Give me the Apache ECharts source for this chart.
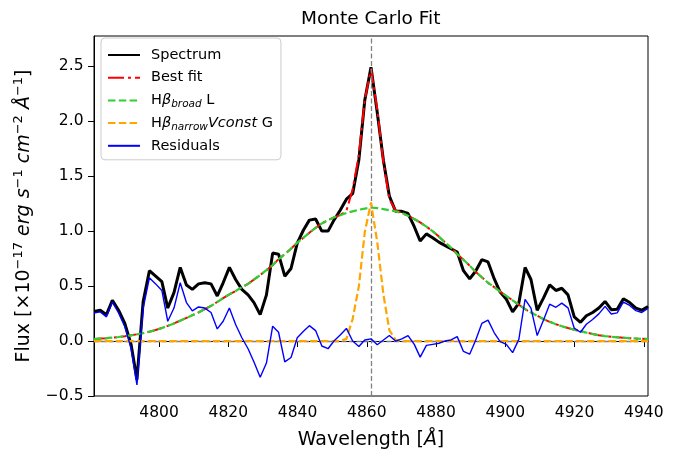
<!DOCTYPE html>
<html><head><meta charset="utf-8">
<script src="https://cdn.jsdelivr.net/npm/echarts@6/dist/echarts.min.js"></script>
<style>html,body{margin:0;padding:0;background:#fff}#c{width:676px;height:452px}</style>
</head><body><div id="c"></div><script>
const wavelength = [4781.2,4783.0,4784.8,4786.5,4788.3,4790.1,4791.9,4793.6,4795.4,4797.2,
4799.0,4800.8,4802.5,4804.3,4806.1,4807.9,4809.6,4811.4,4813.2,4815.0,
4816.8,4818.5,4820.3,4822.1,4823.9,4825.7,4827.4,4829.2,4831.0,4832.8,
4834.5,4836.3,4838.1,4839.9,4841.7,4843.4,4845.2,4847.0,4848.8,4850.5,
4852.3,4854.1,4855.9,4857.7,4859.4,4861.2,4863.0,4864.8,4866.5,4868.3,
4870.1,4871.9,4873.7,4875.4,4877.2,4879.0,4880.8,4882.5,4884.3,4886.1,
4887.9,4889.7,4891.4,4893.2,4895.0,4896.8,4898.5,4900.3,4902.1,4903.9,
4905.7,4907.4,4909.2,4911.0,4912.8,4914.6,4916.3,4918.1,4919.9,4921.7,
4923.4,4925.2,4927.0,4928.8,4930.6,4932.3,4934.1,4935.9,4937.7,4939.4,4941.2];
const spectrum = [0.27,0.28,0.24,0.37,0.28,0.16,-0.03,-0.35,0.36,0.64,
0.59,0.54,0.30,0.44,0.67,0.51,0.47,0.52,0.53,0.52,
0.41,0.53,0.67,0.56,0.47,0.42,0.35,0.24,0.42,0.80,
0.79,0.59,0.66,0.89,1.01,1.10,1.11,1.00,1.00,1.10,
1.19,1.29,1.34,1.65,2.19,2.49,2.08,1.64,1.32,1.18,
1.18,1.16,1.04,0.91,0.975,0.94,0.90,0.87,0.84,0.81,
0.64,0.565,0.635,0.74,0.72,0.565,0.445,0.38,0.265,0.345,
0.67,0.56,0.28,0.39,0.51,0.46,0.48,0.42,0.22,0.17,
0.23,0.26,0.30,0.36,0.285,0.29,0.385,0.35,0.30,0.28,0.315];
const broadComp = [0.018,0.022,0.026,0.031,0.037,0.044,0.052,0.061,0.072,0.085,
0.100,0.118,0.138,0.160,0.185,0.210,0.235,0.260,0.290,0.320,
0.355,0.390,0.425,0.455,0.490,0.520,0.560,0.600,0.645,0.690,
0.745,0.790,0.840,0.895,0.940,0.985,1.030,1.070,1.100,1.125,
1.145,1.165,1.180,1.195,1.205,1.215,1.210,1.200,1.190,1.180,
1.165,1.140,1.110,1.080,1.040,1.000,0.950,0.900,0.850,0.790,
0.740,0.685,0.630,0.580,0.530,0.490,0.450,0.410,0.370,0.330,
0.290,0.260,0.230,0.200,0.175,0.153,0.135,0.118,0.103,0.090,
0.077,0.064,0.053,0.045,0.039,0.034,0.030,0.026,0.023,0.020,0.018];
const narrowComp = [0,0,0,0,0,0,0,0,0,0,
0,0,0,0,0,0,0,0,0,0,
0,0,0,0,0,0,0,0,0,0,
0,0,0,0,0,0,0,0,0,0,
0,0.02,0.20,0.50,0.99,1.26,0.90,0.42,0.10,0.01,
0,0,0,0,0,0,0,0,0,0,
0,0,0,0,0,0,0,0,0,0,
0,0,0,0,0,0,0,0,0,0,
0,0,0,0,0,0,0,0,0,0,0];
const bestFit = [0.018,0.022,0.026,0.031,0.037,0.044,0.052,0.061,0.072,0.085,
0.100,0.118,0.138,0.160,0.185,0.210,0.235,0.260,0.290,0.320,
0.355,0.390,0.425,0.455,0.490,0.520,0.560,0.600,0.645,0.690,
0.745,0.790,0.840,0.895,0.940,0.985,1.030,1.070,1.100,1.125,
1.145,1.185,1.380,1.695,2.195,2.475,2.110,1.620,1.290,1.190,
1.165,1.140,1.110,1.080,1.040,1.000,0.950,0.900,0.850,0.790,
0.740,0.685,0.630,0.580,0.530,0.490,0.450,0.410,0.370,0.330,
0.290,0.260,0.230,0.200,0.175,0.153,0.135,0.118,0.103,0.090,
0.077,0.064,0.053,0.045,0.039,0.034,0.030,0.026,0.023,0.020,0.018];
const residuals = [0.255,0.265,0.22,0.355,0.255,0.13,-0.065,-0.40,0.30,0.575,
0.52,0.46,0.18,0.30,0.53,0.35,0.275,0.31,0.30,0.26,
0.11,0.18,0.30,0.15,0.03,-0.07,-0.19,-0.33,-0.20,0.135,
0.08,-0.19,-0.15,0.03,0.09,0.14,0.095,-0.045,-0.07,0.0,
0.055,0.115,0.0,-0.05,0.01,0.02,-0.034,0.01,0.05,0.0,
0.02,0.05,-0.03,-0.146,-0.04,-0.03,-0.02,0.0,0.01,0.04,
-0.095,-0.12,0.005,0.16,0.19,0.075,-0.005,-0.03,-0.105,0.015,
0.38,0.30,0.05,0.19,0.335,0.307,0.345,0.302,0.117,0.08,
0.153,0.196,0.247,0.315,0.246,0.256,0.355,0.324,0.277,0.26,0.297];
const xTicks = [4800,4820,4840,4860,4880,4900,4920,4940];
const yTicks = [-0.5,0.0,0.5,1.0,1.5,2.0,2.5];
const HBETA = 4861.3;
const X_RANGE = [4781.2, 4941.2];
const Y_RANGE = [-0.5, 2.775];

const FONT = 'DejaVu Sans';
const pairs = ys => wavelength.map((w, i) => [w, ys[i]]);
const names = ['Spectrum', 'Best fit', 'Hβ broad L', 'Hβ narrow Vconst G', 'Residuals'];
const legendText = {
  'Spectrum': 'Spectrum',
  'Best fit': 'Best fit',
  'Hβ broad L': 'H{it|β}{sub|broad} L',
  'Hβ narrow Vconst G': 'H{it|β}{sub|narrow}{it|Vconst} G',
  'Residuals': 'Residuals'
};
const chart = echarts.init(document.getElementById('c'), null, {renderer: 'canvas'});
const fmt = v => (v < 0 ? '\u2212' : '') + Math.abs(v).toFixed(1);
const option = {
  animation: false,
  backgroundColor: '#fff',
  title: {
    text: 'Monte Carlo Fit', left: 296, top: 5,
    textStyle: {fontFamily: FONT, fontSize: 18.5, fontWeight: 'normal', color: '#000'}
  },
  grid: {left: 94, right: 28, top: 36, bottom: 56, show: true, borderColor: '#000', borderWidth: 1,
    containLabel: false, outerBoundsMode: 'none'},
  legend: {
    data: names, orient: 'vertical', left: 101, top: 38,
    itemWidth: 32, itemHeight: 14, itemGap: 0.7,
    padding: [6, 8, 3, 6],
    borderColor: '#cccccc', borderWidth: 1, borderRadius: 4,
    backgroundColor: 'rgba(255,255,255,0.8)',
    itemStyle: {opacity: 0},
    formatter: n => legendText[n],
    textStyle: {
      fontFamily: FONT, fontSize: 14.5, color: '#000', lineHeight: 22, padding: [0, 0, 0, 6],
      rich: {
        it: {fontFamily: FONT, fontSize: 14.5, fontStyle: 'italic', color: '#000', lineHeight: 22},
        sub: {fontFamily: FONT, fontSize: 10.5, fontStyle: 'italic', color: '#000', lineHeight: 22, padding: [8, 0, 0, 0]}
      }
    }
  },
  xAxis: {
    type: 'value', min: X_RANGE[0], max: X_RANGE[1],
    minInterval: xTicks[1] - xTicks[0], maxInterval: xTicks[1] - xTicks[0], splitNumber: xTicks.length,
    axisLine: {lineStyle: {color: '#000', width: 1}},
    axisTick: {length: 6, lineStyle: {color: '#000'}},
    axisLabel: {color: '#000', fontFamily: FONT, fontSize: 15.5, margin: 9, showMinLabel: false, showMaxLabel: false,
      formatter: v => xTicks.includes(Math.round(v * 10) / 10) ? String(Math.round(v)) : ''},
    splitLine: {show: false},
    name: 'Wavelength [{it|Å}]', nameLocation: 'middle', nameGap: 35,
    nameTextStyle: {fontFamily: FONT, fontSize: 19, color: '#000',
      rich: {it: {fontFamily: FONT, fontSize: 19, fontStyle: 'italic', color: '#000'}}}
  },
  yAxis: {
    type: 'value', min: Y_RANGE[0], max: Y_RANGE[1], interval: yTicks[1] - yTicks[0],
    axisLine: {lineStyle: {color: '#000', width: 1}},
    axisTick: {length: 6, lineStyle: {color: '#000'}},
    axisLabel: {color: '#000', fontFamily: FONT, fontSize: 15.5, margin: 10.5, showMaxLabel: false,
      formatter: v => yTicks.some(t => Math.abs(t - v) < 1e-6) ? fmt(v) : ''},
    splitLine: {show: false},
    name: 'Flux [×10{sup|−17} {it|erg s}{sup|−1} {it|cm}{sup|−2} {it|Å}{sup|−1}]',
    nameLocation: 'middle', nameGap: 58, nameRotate: 90,
    nameTextStyle: {fontFamily: FONT, fontSize: 19, color: '#000',
      rich: {
        it: {fontFamily: FONT, fontSize: 19, fontStyle: 'italic', color: '#000'},
        sup: {fontFamily: FONT, fontSize: 13, color: '#000', padding: [0, 0, 11, 0]}
      }}
  },
  series: [
    {name: 'Spectrum', type: 'line', data: pairs(spectrum), showSymbol: false, symbol: 'none', z: 2,
      lineStyle: {color: '#000', width: 3}, itemStyle: {color: '#000'}},
    {name: 'Best fit', type: 'line', data: pairs(bestFit), showSymbol: false, symbol: 'none', z: 3,
      lineStyle: {color: '#ff0000', width: 2, type: [16, 4, 3, 4]}, itemStyle: {color: '#ff0000'}},
    {name: 'Hβ broad L', type: 'line', data: pairs(broadComp), showSymbol: false, symbol: 'none', z: 4,
      lineStyle: {color: '#32cd32', width: 2.2, type: [7.5, 3.3]}, itemStyle: {color: '#32cd32'}},
    {name: 'Hβ narrow Vconst G', type: 'line', data: pairs(narrowComp), showSymbol: false, symbol: 'none', z: 6,
      lineStyle: {color: '#ffa500', width: 2.2, type: [7.5, 3.3]}, itemStyle: {color: '#ffa500'}},
    {name: 'Residuals', type: 'line', data: pairs(residuals), showSymbol: false, symbol: 'none', z: 7,
      lineStyle: {color: '#0000ff', width: 1.4}, itemStyle: {color: '#0000ff'}},
    {type: 'line', data: [], z: 5, silent: true,
      markLine: {symbol: 'none', silent: true, label: {show: false},
        lineStyle: {color: '#808080', width: 1.3, type: [5, 2.5]}, data: [{yAxis: 0}]}},
    {type: 'line', data: [], z: 10, silent: true,
      markLine: {symbol: 'none', silent: true, label: {show: false},
        lineStyle: {color: '#808080', width: 1.3, type: [5, 2.5]}, data: [{xAxis: HBETA}]}}
  ]
};
chart.setOption(option);
</script></body></html>
